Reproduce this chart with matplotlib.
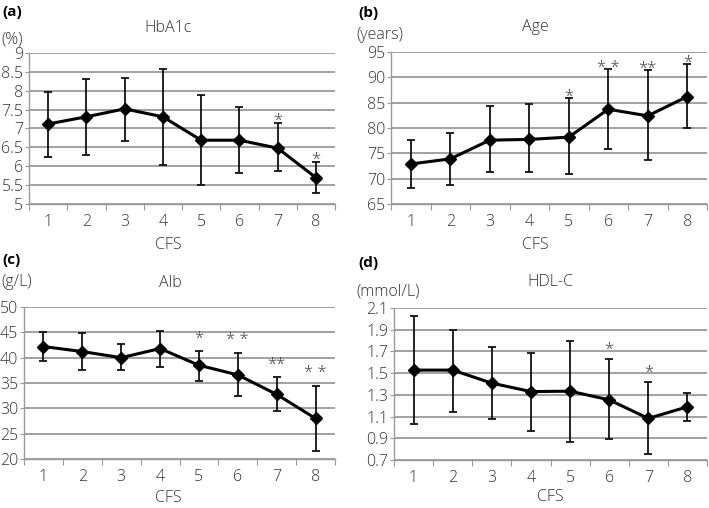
import matplotlib
matplotlib.use('Agg')
import matplotlib.pyplot as plt
import numpy as np

plt.rcParams['font.family'] = ['Open Sans', 'DejaVu Sans']
plt.rcParams['font.weight'] = 'light'

cfs = [1, 2, 3, 4, 5, 6, 7, 8]

# (a) HbA1c (%)
hba1c = [7.12, 7.31, 7.52, 7.31, 6.69, 6.69, 6.48, 5.70]
hba1c_hi = [7.96, 8.30, 8.35, 8.58, 7.90, 7.57, 7.14, 6.10]
hba1c_lo = [6.25, 6.31, 6.66, 6.02, 5.51, 5.83, 5.87, 5.30]
hba1c_sig = ['', '', '', '', '', '', '*', '*']

# (b) Age (years)
age = [72.9, 73.9, 77.6, 77.75, 78.2, 83.7, 82.4, 86.2]
age_hi = [77.6, 79.1, 84.4, 84.7, 85.85, 91.6, 91.4, 92.6]
age_lo = [68.1, 68.8, 71.3, 71.3, 70.85, 75.8, 73.7, 80.0]
age_sig = ['', '', '', '', '*', '* *', '**', '*']

# (c) Alb (g/L)
alb = [42.2, 41.2, 40.0, 41.8, 38.5, 36.6, 32.75, 28.0]
alb_hi = [45.1, 44.9, 42.6, 45.3, 41.4, 41.0, 36.2, 34.5]
alb_lo = [39.4, 37.5, 37.6, 38.1, 35.4, 32.4, 29.5, 21.6]
alb_sig = ['', '', '', '', '*', '* *', '**', '* *']

# (d) HDL-C (mmol/L)
hdl = [1.528, 1.528, 1.408, 1.33, 1.334, 1.254, 1.083, 1.19]
hdl_hi = [2.023, 1.90, 1.745, 1.689, 1.80, 1.628, 1.414, 1.318]
hdl_lo = [1.034, 1.142, 1.08, 0.966, 0.864, 0.891, 0.756, 1.06]
hdl_sig = ['', '', '', '', '', '*', '*', '']

W, H = 709, 508
fig = plt.figure(figsize=(W / 100, H / 100), dpi=100)
txt = '#333333'
fs = 11.5


def px_axes(left, top, right, bottom):
    return fig.add_axes([left / W, 1 - bottom / H, (right - left) / W, (bottom - top) / H])


def ftext(x, y, s, **kw):
    fig.text(x / W, 1 - y / H, s, color=kw.pop('color', txt), **kw)


def panel(ax, y, hi, lo, sig, yticks, ylabels, star_off):
    ax.set_xlim(0.5, 8.5)
    ax.set_ylim(yticks[0], yticks[-1])
    for s in ['top', 'right']:
        ax.spines[s].set_visible(False)
    for s in ['left', 'bottom']:
        ax.spines[s].set_color('#9a9a9a')
        ax.spines[s].set_linewidth(1.0)
    ax.set_yticks(yticks)
    ax.set_yticklabels(ylabels)
    ax.yaxis.grid(True, color='#9a9a9a', linewidth=1.3)
    ax.set_axisbelow(True)
    ax.set_xticks(np.arange(0.5, 9, 1.0))
    ax.set_xticklabels([])
    ax.set_xticks(cfs, minor=True)
    ax.set_xticklabels([str(c) for c in cfs], minor=True)
    ax.tick_params(axis='x', which='major', length=4, color='#9a9a9a', direction='out')
    ax.tick_params(axis='x', which='minor', length=0, pad=7, labelsize=fs, labelcolor=txt)
    ax.tick_params(axis='y', length=3, color='#9a9a9a', pad=1, labelsize=fs, labelcolor=txt)
    yerr = [np.array(y) - np.array(lo), np.array(hi) - np.array(y)]
    ax.errorbar(cfs, y, yerr=yerr, fmt='none', ecolor='#111111', elinewidth=1.3,
                capsize=3, capthick=1.3, zorder=3)
    ax.plot(cfs, y, color='black', lw=2.2, marker='D', markersize=6, zorder=4)
    for c, h, s in zip(cfs, hi, sig):
        if s:
            ax.annotate(s, (c, h), xytext=(0, star_off), textcoords='offset points',
                        ha='center', va='bottom', fontsize=12, color='#444444')


ax_a = px_axes(29, 53, 335, 204)
panel(ax_a, hba1c, hba1c_hi, hba1c_lo, hba1c_sig,
      [5, 5.5, 6, 6.5, 7, 7.5, 8, 8.5, 9],
      ['5', '5.5', '6', '6.5', '7', '7.5', '8', '8.5', '9'], -4)

ax_b = px_axes(391, 52, 707, 204)
panel(ax_b, age, age_hi, age_lo, age_sig,
      [65, 70, 75, 80, 85, 90, 95],
      ['65', '70', '75', '80', '85', '90', '95'], -5)

ax_c = px_axes(24, 307, 335, 459)
panel(ax_c, alb, alb_hi, alb_lo, alb_sig,
      [20, 25, 30, 35, 40, 45, 50],
      ['20', '25', '30', '35', '40', '45', '50'], 3)

ax_d = px_axes(394, 308, 707, 460)
panel(ax_d, hdl, hdl_hi, hdl_lo, hdl_sig,
      [0.7, 0.9, 1.1, 1.3, 1.5, 1.7, 1.9, 2.1],
      ['0.7', '0.9', '1.1', '1.3', '1.5', '1.7', '1.9', '2.1'], 1)

# titles, units, panel letters, x labels
ftext(168, 28, 'HbA1c', ha='center', va='center', fontsize=fs)
ftext(535, 27, 'Age', ha='center', va='center', fontsize=fs)
ftext(170, 283, 'Alb', ha='center', va='center', fontsize=fs)
ftext(550, 282, 'HDL-C', ha='center', va='center', fontsize=fs)

ftext(1, 39, '(%)', ha='left', va='center', fontsize=fs)
ftext(356, 35, '(years)', ha='left', va='center', fontsize=fs)
ftext(1, 282, '(g/L)', ha='left', va='center', fontsize=fs)
ftext(356, 292, '(mmol/L)', ha='left', va='center', fontsize=fs)

ftext(2, 12, '(a)', ha='left', va='center', fontsize=11, fontweight='bold', color='black')
ftext(358, 13, '(b)', ha='left', va='center', fontsize=11, fontweight='bold', color='black')
ftext(2, 260, '(c)', ha='left', va='center', fontsize=11, fontweight='bold', color='black')
ftext(358, 263, '(d)', ha='left', va='center', fontsize=11, fontweight='bold', color='black')

ftext(168, 245, 'CFS', ha='center', va='center', fontsize=fs)
ftext(535, 245, 'CFS', ha='center', va='center', fontsize=fs)
ftext(168, 498, 'CFS', ha='center', va='center', fontsize=fs)
ftext(550, 497, 'CFS', ha='center', va='center', fontsize=fs)

fig.savefig('out.png', dpi=100)
